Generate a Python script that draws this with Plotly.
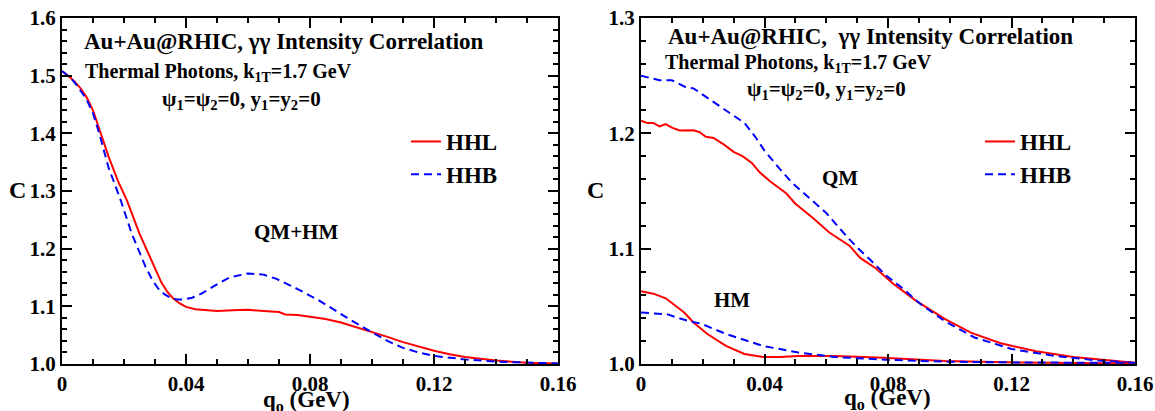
import plotly.graph_objects as go

# ---------------- data ----------------
# Left panel: QM+HM
q_hhl_left = [0, 0.002, 0.004, 0.006, 0.008, 0.010, 0.012, 0.015, 0.018, 0.021, 0.025, 0.028,
              0.030, 0.032, 0.034, 0.036, 0.038, 0.040, 0.043, 0.047, 0.050, 0.055, 0.060, 0.065,
              0.070, 0.072, 0.076, 0.080, 0.085, 0.090, 0.095, 0.100, 0.105, 0.110, 0.115, 0.120,
              0.125, 0.130, 0.140, 0.150, 0.160]
c_hhl_left = [1.508, 1.500, 1.490, 1.478, 1.462, 1.440, 1.408, 1.360, 1.318, 1.283, 1.226, 1.190,
              1.165, 1.142, 1.125, 1.113, 1.105, 1.099, 1.095, 1.093, 1.092, 1.093, 1.094, 1.092,
              1.090, 1.086, 1.085, 1.082, 1.078, 1.072, 1.064, 1.056, 1.047, 1.038, 1.030, 1.023,
              1.017, 1.012, 1.006, 1.002, 1.001]

q_hhb_left = [0, 0.003, 0.005, 0.008, 0.010, 0.012, 0.015, 0.019, 0.0225, 0.027, 0.029, 0.031,
              0.033, 0.035, 0.037, 0.039, 0.042, 0.045, 0.049, 0.054, 0.060, 0.065, 0.069, 0.076,
              0.083, 0.092, 0.100, 0.105, 0.110, 0.115, 0.120, 0.130, 0.140, 0.150, 0.160]
c_hhb_left = [1.508, 1.495, 1.482, 1.458, 1.435, 1.400, 1.341, 1.283, 1.226, 1.168, 1.147, 1.131,
              1.121, 1.115, 1.112, 1.112, 1.115, 1.122, 1.135, 1.150, 1.157, 1.155, 1.148, 1.130,
              1.110, 1.080, 1.055, 1.040, 1.028, 1.020, 1.014, 1.008, 1.004, 1.002, 1.001]

# Right panel: QM
q_hhl_qm = [0, 0.002, 0.004, 0.006, 0.008, 0.010, 0.0125, 0.015, 0.017, 0.019, 0.021, 0.0235,
            0.027, 0.030, 0.033, 0.036, 0.0385, 0.042, 0.047, 0.050, 0.0555, 0.061, 0.0675, 0.071,
            0.076, 0.0815, 0.089, 0.0985, 0.107, 0.1165, 0.128, 0.140, 0.152, 0.160]
c_hhl_qm = [1.211, 1.209, 1.209, 1.206, 1.208, 1.205, 1.2025, 1.2028, 1.2026, 1.201, 1.197, 1.196,
            1.190, 1.184, 1.180, 1.174, 1.166, 1.158, 1.148, 1.139, 1.127, 1.114, 1.1026, 1.092,
            1.083, 1.070, 1.055, 1.039, 1.027, 1.018, 1.011, 1.006, 1.003, 1.001]

q_hhb_qm = [0, 0.003, 0.006, 0.010, 0.0145, 0.017, 0.0215, 0.0275, 0.0335, 0.037, 0.040, 0.045,
            0.049, 0.0545, 0.060, 0.0655, 0.070, 0.074, 0.0795, 0.085, 0.0905, 0.0985, 0.108,
            0.120, 0.134, 0.148, 0.160]
c_hhb_qm = [1.250, 1.248, 1.246, 1.246, 1.240, 1.239, 1.231, 1.220, 1.209, 1.197, 1.185, 1.169,
            1.157, 1.144, 1.131, 1.114, 1.101, 1.091, 1.0765, 1.065, 1.052, 1.037, 1.023,
            1.013, 1.007, 1.003, 1.001]

# Right panel: HM
q_hhl_hm = [0, 0.004, 0.008, 0.011, 0.014, 0.017, 0.0215, 0.0275, 0.0335, 0.0395, 0.045, 0.051,
            0.063, 0.0785, 0.0985, 0.122, 0.140, 0.160]
c_hhl_hm = [1.063, 1.061, 1.057, 1.051, 1.0446, 1.036, 1.026, 1.0157, 1.0087, 1.006, 1.006, 1.007,
            1.007, 1.0055, 1.0026, 1.0013, 1.001, 1.0005]

q_hhb_hm = [0, 0.004, 0.0087, 0.012, 0.0158, 0.0194, 0.0276, 0.0395, 0.051, 0.063, 0.081, 0.099,
            0.122, 0.160]
c_hhb_hm = [1.0446, 1.044, 1.043, 1.040, 1.037, 1.035, 1.026, 1.0157, 1.0099, 1.006, 1.0035, 1.002,
            1.0013, 1.001]

x_tickvals = [0, 0.04, 0.08, 0.12, 0.16]
x_ticktext = ["0", "0.04", "0.08", "0.12", "0.16"]

# ---------------- figure ----------------
FONT = "Liberation Serif"
RED = "#ff0000"
BLUE = "#0000ff"
DASH = "8px,5px"

fig = go.Figure()

fig.add_trace(go.Scatter(x=q_hhl_left, y=c_hhl_left, mode="lines", name="HHL",
                         line=dict(color=RED, width=2), xaxis="x", yaxis="y", legend="legend"))
fig.add_trace(go.Scatter(x=q_hhb_left, y=c_hhb_left, mode="lines", name="HHB",
                         line=dict(color=BLUE, width=2, dash=DASH), xaxis="x", yaxis="y", legend="legend"))

fig.add_trace(go.Scatter(x=q_hhl_qm, y=c_hhl_qm, mode="lines", name="HHL",
                         line=dict(color=RED, width=2), xaxis="x2", yaxis="y2", legend="legend2"))
fig.add_trace(go.Scatter(x=q_hhb_qm, y=c_hhb_qm, mode="lines", name="HHB",
                         line=dict(color=BLUE, width=2, dash=DASH), xaxis="x2", yaxis="y2", legend="legend2"))
fig.add_trace(go.Scatter(x=q_hhl_hm, y=c_hhl_hm, mode="lines", name="HHL",
                         line=dict(color=RED, width=2), xaxis="x2", yaxis="y2", showlegend=False))
fig.add_trace(go.Scatter(x=q_hhb_hm, y=c_hhb_hm, mode="lines", name="HHB",
                         line=dict(color=BLUE, width=2, dash=DASH), xaxis="x2", yaxis="y2", showlegend=False))

W, H = 1155, 411
def px_x(p):
    return p / W
def px_y(p):
    return 1 - p / H

tickfont = dict(family=FONT, size=21, color="black", weight="bold")

def xaxis_cfg(domain, anchor):
    return dict(domain=domain, anchor=anchor, range=[0, 0.16], showgrid=False, zeroline=False,
                automargin=False,
                showline=True, linecolor="black", linewidth=2, mirror="allticks",
                ticks="inside", ticklen=10, tickwidth=1.5, tickcolor="black",
                tickvals=x_tickvals, ticktext=x_ticktext, tickfont=tickfont,
                minor=dict(tickmode="linear", tick0=0, dtick=0.01, ticks="inside", ticklen=5,
                           tickwidth=1.5, tickcolor="black", showgrid=False))

def yaxis_cfg(domain, anchor, rng):
    return dict(domain=domain, anchor=anchor, range=rng, showgrid=False, zeroline=False,
                automargin=False,
                showline=True, linecolor="black", linewidth=2, mirror="allticks",
                ticks="inside", ticklen=10, tickwidth=1.5, tickcolor="black",
                dtick=0.1, tick0=1.0, tickformat=".1f", tickfont=tickfont,
                minor=dict(tickmode="linear", tick0=1.0, dtick=0.02, ticks="inside", ticklen=5,
                           tickwidth=1.5, tickcolor="black", showgrid=False))

ydom = [px_y(364), px_y(18)]
fig.update_layout(
    width=W, height=H,
    margin=dict(l=0, r=0, t=0, b=0, autoexpand=False),
    paper_bgcolor="white", plot_bgcolor="white",
    font=dict(family=FONT, color="black"),
    xaxis=xaxis_cfg([px_x(62), px_x(558)], "y"),
    yaxis=yaxis_cfg(ydom, "x", [1.0, 1.6]),
    xaxis2=xaxis_cfg([px_x(641), px_x(1135)], "y2"),
    yaxis2=yaxis_cfg(ydom, "x2", [1.0, 1.3]),
    legend=dict(x=px_x(406), y=px_y(120), xanchor="left", yanchor="top",
                bgcolor="rgba(0,0,0,0)", borderwidth=0, tracegroupgap=0,
                font=dict(family=FONT, size=23, color="black", weight="bold")),
    legend2=dict(x=px_x(980), y=px_y(120), xanchor="left", yanchor="top",
                 bgcolor="rgba(0,0,0,0)", borderwidth=0, tracegroupgap=0,
                 font=dict(family=FONT, size=23, color="black", weight="bold")),
)

def ann(text, x, y, size, rot=0):
    fig.add_annotation(text="<b>" + text + "</b>", x=px_x(x), y=px_y(y), xref="paper", yref="paper",
                       showarrow=False, xanchor="center", yanchor="middle", textangle=rot,
                       font=dict(family=FONT, size=size, color="black"))

# left panel texts
ann("Au+Au@RHIC, γγ Intensity Correlation", 284, 42, 23)
ann("Thermal Photons, k<sub>1T</sub>=1.7 GeV", 218, 72, 20)
ann("ψ<sub>1</sub>=ψ<sub>2</sub>=0, y<sub>1</sub>=y<sub>2</sub>=0", 241, 100, 21)
ann("QM+HM", 296, 232, 21)
ann("C", 17, 190, 24)
ann("q<sub>o</sub> (GeV)", 306, 401, 23)

# right panel texts
ann("Au+Au@RHIC,  γγ Intensity Correlation", 870, 37, 23)
ann("Thermal Photons, k<sub>1T</sub>=1.7 GeV", 798, 63, 20)
ann("ψ<sub>1</sub>=ψ<sub>2</sub>=0, y<sub>1</sub>=y<sub>2</sub>=0", 826, 90, 21)
ann("QM", 840, 178, 21)
ann("HM", 732, 300, 21)
ann("C", 595, 190, 24)
ann("q<sub>o</sub> (GeV)", 887, 399, 23)

fig.write_html("out.html")
